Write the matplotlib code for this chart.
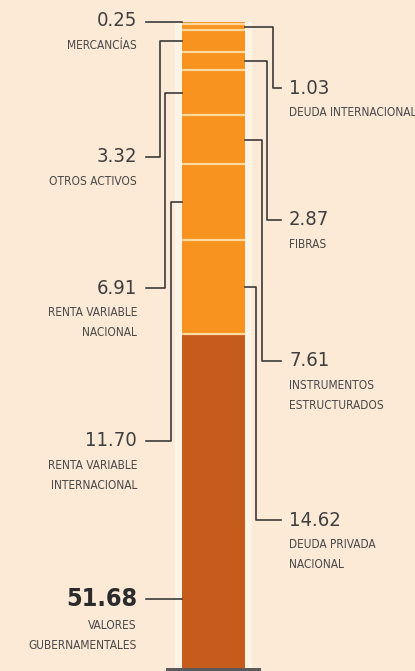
import numpy as np
import matplotlib.pyplot as plt
from matplotlib import font_manager as fm

# composicion de la cartera, de abajo hacia arriba (porcentaje)
labels = ["VALORES\nGUBERNAMENTALES", "DEUDA PRIVADA\nNACIONAL", "RENTA VARIABLE\nINTERNACIONAL",
          "INSTRUMENTOS\nESTRUCTURADOS", "RENTA VARIABLE\nNACIONAL", "FIBRAS", "OTROS ACTIVOS",
          "DEUDA INTERNACIONAL", "MERCANCÍAS"]
values = [51.68, 14.62, 11.70, 7.61, 6.91, 2.87, 3.32, 1.03, 0.25]
colors = ["#c65c1c", "#f7931e", "#f7931e", "#f7931e", "#f7931e", "#f7931e", "#f7931e", "#f7931e", "#ee8a26"]

# layout: lado, x del quiebre, y del texto (pixeles)
sides = ["L", "R", "L", "R", "L", "R", "L", "R", "L"]
knee_x = [None, 256, 171, 262, 165, 267, 160, 273, None]
text_y = [599, 520, 441, 361, 288, 220, 157, 88, 21]

BG = "#fce9d6"
LINE = "#3b3b3b"
BOT_PX = 668.0
SCALE = 6.46  # px por punto porcentual

# buscar una fuente angosta instalada
def pick(bold):
    pref = ["liberationsansnarrow", "dejavusanscondensed", "robotocondensed", "opensanscondensed"]
    found = []
    for f in fm.fontManager.ttflist:
        n = f.fname.lower().replace("-", "").replace("_", "")
        if f.style != "normal":
            continue
        isbold = (f.weight in ("bold", 700) or (isinstance(f.weight, int) and f.weight >= 700))
        if isbold != bold:
            continue
        for r, p in enumerate(pref):
            if p in n:
                found.append((r, f.fname))
    if found:
        found.sort()
        return fm.FontProperties(fname=found[0][1])
    return fm.FontProperties(family="DejaVu Sans", stretch="condensed",
                             weight="bold" if bold else "normal")

FP = pick(False)
FPB = pick(True)

def py(p):
    return (BOT_PX - p) / SCALE

fig = plt.figure(figsize=(4.15, 6.71), dpi=100, facecolor=BG)
ax = fig.add_axes([0, 0, 1, 1])
ax.set_facecolor(BG)
ax.set_xlim(0, 415)
ax.set_ylim(py(671), py(0))
ax.axis("off")

x0, x1 = 182, 245
xc = (x0 + x1) / 2
w = x1 - x0

# halo claro
ax.bar(xc, sum(values), width=w + 14, bottom=0, color="#fff3e6", zorder=1)
bottoms = np.concatenate([[0], np.cumsum(values)[:-1]])
ax.bar(xc, values, width=w, bottom=bottoms, color=colors, zorder=2)
# separadores
for b in bottoms[1:]:
    ax.hlines(b, x0, x1, color="#ffd9a0", lw=1.6, zorder=3)
# base
ax.bar(xc, py(668) - py(671), width=95, bottom=py(671), color="#5a5a5a", zorder=4)

for i, (lab, v) in enumerate(zip(labels, values)):
    mid = bottoms[i] + v / 2
    ty = py(text_y[i])
    if i == 0:
        ya = ty
    elif i == len(values) - 1:
        ya = bottoms[i] + v
    else:
        ya = mid
    if sides[i] == "L":
        xs_end, xbar, xt, ha = 146, x0, 137, "right"
    else:
        xs_end, xbar, xt, ha = 281, x1, 289, "left"
    if knee_x[i] is None:
        ax.plot([xbar, xs_end], [ya, ya], color=LINE, lw=1.2, zorder=5)
    else:
        k = knee_x[i]
        ax.plot([xbar, k, k, xs_end], [ya, ya, ty, ty], color=LINE, lw=1.2, zorder=5)
    bold = i == 0
    fp = (FPB if bold else FP).copy()
    fp.set_size(18 if bold else 14.5)
    ax.text(xt, ty, f"{v:.2f}", ha=ha, va="center", fontproperties=fp,
            color="#2b2b2b" if bold else "#3f3f3f", zorder=6)
    off = 26 if bold else 24
    fs = FP.copy()
    fs.set_size(8.6)
    ax.text(xt, py(text_y[i] + off - 6), lab, ha=ha, va="top", fontproperties=fs,
            color="#4a4a4a", linespacing=1.72, zorder=6)

fig.savefig("out.png", dpi=100, facecolor=BG)
